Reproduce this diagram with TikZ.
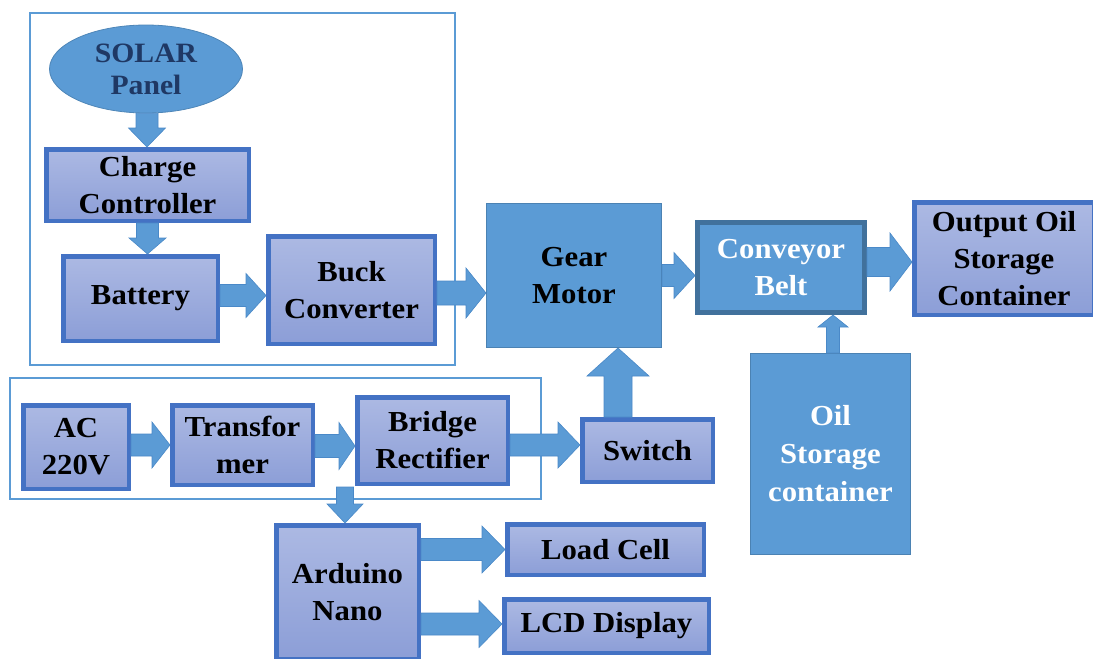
\documentclass[tikz,border=0pt]{standalone}
\usepackage{fontspec}
\setmainfont{Liberation Serif}[FakeStretch=1.06]
\usetikzlibrary{calc,shapes.geometric}
\definecolor{mblue}{HTML}{5B9BD5}
\definecolor{aborder}{HTML}{4472C4}
\definecolor{gtop}{RGB}{172,185,227}
\definecolor{gbot}{RGB}{140,158,215}
\definecolor{cborder}{HTML}{41719C}
\definecolor{navy}{HTML}{1F3864}
\definecolor{arrowline}{HTML}{4A89C8}
\tikzset{
  txt/.style={font=\bfseries\fontsize{29}{37}\selectfont, align=center, inner sep=0pt},
  gbox/.style={txt, rectangle, draw=aborder, line width=4.5pt, top color=gtop, bottom color=gbot, text=black},
  fbox/.style={txt, rectangle, fill=mblue, draw=cborder!60!mblue, line width=1pt},
  frame/.style={draw=mblue, line width=2pt},
  afill/.style={fill=mblue, draw=arrowline, line width=0.6pt},
}
\newcommand\hbarrow[5]{\path[afill] let \p1=(#1), \p2=(#2) in
  (\x1,\y1+#3) -- (\x2-#5,\y1+#3) -- (\x2-#5,\y1+#4) -- (\x2,\y1) -- (\x2-#5,\y1-#4) -- (\x2-#5,\y1-#3) -- (\x1,\y1-#3) -- cycle;}
\newcommand\dbarrow[5]{\path[afill] let \p1=(#1), \p2=(#2) in
  (\x1-#3,\y1) -- (\x1-#3,\y2+#5) -- (\x1-#4,\y2+#5) -- (\x1,\y2) -- (\x1+#4,\y2+#5) -- (\x1+#3,\y2+#5) -- (\x1+#3,\y1) -- cycle;}
\newcommand\ubarrow[5]{\path[afill] let \p1=(#1), \p2=(#2) in
  (\x1-#3,\y1) -- (\x1-#3,\y2-#5) -- (\x1-#4,\y2-#5) -- (\x1,\y2) -- (\x1+#4,\y2-#5) -- (\x1+#3,\y2-#5) -- (\x1+#3,\y1) -- cycle;}
\begin{document}
\begin{tikzpicture}[x=1pt,y=-1pt]
\useasboundingbox[fill=white] (0,0) rectangle (1093,659);
% frames
\draw[frame] (30,13) rectangle (455,365);
\draw[frame] (10,378) rectangle (541,499);
% nodes
\node[ellipse, fill=mblue, draw=cborder!50!mblue, line width=0.8pt, minimum width=193pt, minimum height=88pt, inner sep=0pt,
      font=\bfseries\fontsize{28}{32}\selectfont, align=center, text=navy] (solar) at (146,69) {SOLAR\\Panel};
\node[gbox, minimum width=202.5pt, minimum height=71.5pt] (charge) at (147.5,185) {Charge\\Controller};
\node[gbox, minimum width=154.5pt, minimum height=84.5pt] (battery) at (140.5,298.5) {Battery};
\node[gbox, minimum width=166.5pt, minimum height=107.5pt] (buck) at (351.5,290) {Buck\\Converter};
\node[fbox, minimum width=175pt, minimum height=144pt, text=black] (gear) at (574,275.5) {Gear\\Motor};
\node[txt, rectangle, fill=mblue, draw=cborder, line width=5pt, minimum width=167pt, minimum height=90pt, text=white] (conv) at (781,267.5) {Conveyor\\Belt};
\node[gbox, minimum width=179.5pt, minimum height=112.5pt] (out) at (1004,258.5) {Output Oil\\Storage\\Container};
\node[fbox, minimum width=160pt, minimum height=201pt, text=white, font=\bfseries\fontsize{29}{38}\selectfont] (oil) at (830.5,454) {Oil\\Storage\\container};
\node[gbox, minimum width=105.5pt, minimum height=83.5pt] (ac) at (76,447) {AC\\220V};
\node[gbox, minimum width=140.5pt, minimum height=79.5pt] (trans) at (242.5,445) {Transfor\\mer};
\node[gbox, minimum width=150.5pt, minimum height=86.5pt] (bridge) at (432.5,440.5) {Bridge\\Rectifier};
\node[gbox, minimum width=130.5pt, minimum height=62.5pt] (sw) at (647.5,450.5) {Switch};
\node[gbox, minimum width=142.5pt, minimum height=133.5pt] (arduino) at (347.5,592) {Arduino\\Nano};
\node[gbox, minimum width=196.5pt, minimum height=50.5pt] (load) at (605.5,549.5) {Load Cell};
\node[gbox, minimum width=204.5pt, minimum height=53.5pt] (lcd) at (606.5,626) {LCD Display};
\coordinate (split) at (345,487);
% arrows
\dbarrow{$(solar.south)+(1,0)$}{charge.north}{11pt}{18.5pt}{19pt}
\dbarrow{charge.south}{battery.north}{11pt}{18.5pt}{16pt}
\hbarrow{$(battery.east)+(0,-3)$}{buck.west}{11pt}{22pt}{20pt}
\hbarrow{$(buck.east)+(0,3)$}{gear.west}{12pt}{25pt}{20pt}
\hbarrow{gear.east}{conv.west}{11pt}{23pt}{21pt}
\hbarrow{$(conv.east)+(0,-5.5)$}{out.west}{14.5pt}{29pt}{22pt}
\ubarrow{$(oil.north)+(2.5,0)$}{conv.south}{6.5pt}{15pt}{12pt}
\hbarrow{$(ac.east)+(0,-2)$}{trans.west}{11pt}{23pt}{18pt}
\hbarrow{$(trans.east)+(0,1)$}{bridge.west}{11.5pt}{23.5pt}{16pt}
\hbarrow{$(bridge.east)+(0,4.5)$}{sw.west}{11pt}{23pt}{22pt}
\ubarrow{$(sw.north)+(-29.5,0)$}{gear.south}{14pt}{31pt}{28pt}
\dbarrow{split}{arduino.north}{8.5pt}{18pt}{19pt}
\hbarrow{arduino.east |- load.west}{load.west}{11pt}{23.5pt}{23pt}
\hbarrow{$(arduino.east |- lcd.west)+(0,-2)$}{lcd.west}{11pt}{23.5pt}{23pt}
\end{tikzpicture}
\end{document}
